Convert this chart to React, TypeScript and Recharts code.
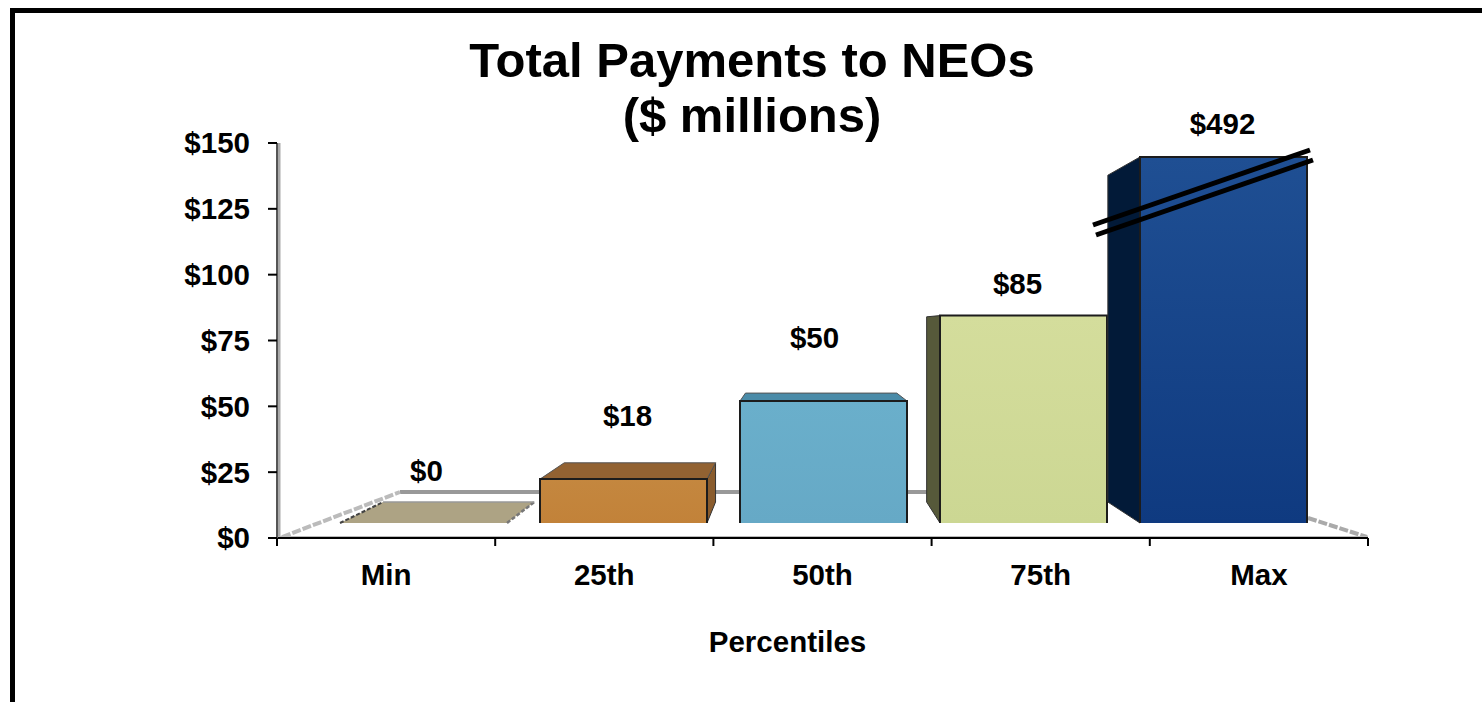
import React from 'react';
import { ComposedChart, Bar, Line, XAxis, YAxis, LabelList } from 'recharts';

// Chart content
const titleLines = ['Total Payments to NEOs', '($ millions)'];
const xAxisTitle = 'Percentiles';
const categories = ['Min', '25th', '50th', '75th', 'Max'];
const payments = [0, 18, 50, 85, 492];
const yTicks = [0, 25, 50, 75, 100, 125, 150];
const axisMax = 150;

// Per-bar appearance: front gradient, receding side face, top face
const frontTop = ['#ada384', '#c4873f', '#6aafcb', '#d4dd9c', '#1f4f93'];
const frontBottom = ['#ada384', '#c28239', '#66a9c6', '#ccd793', '#0f3a80'];
const sideFaces = ['#8a8369', '#8a5c2d', '#3f7f99', '#56593a', '#021a38'];
const topFaces = ['#ada384', '#926232', '#4a8ba8', '#7f8460', '#1a3a6a'];

// Label placement relative to the front face of each bar
const labelLift = [53, 64, 64, 32, 34];
const labelShift = [3, 4, -9, -6, -1];

const rows = categories.map((category, i) => ({
  category,
  payment: payments[i],
  plotted: Math.min(payments[i], axisMax),
}));

// One-point perspective used for the bar depth and the chart floor
const VANISH_X = 798;
const VANISH_Y = 327;
const DEPTH_X = 0.906;
const DEPTH_Y = 0.893;
const backX = (x: number) => VANISH_X + (x - VANISH_X) * DEPTH_X;
const backY = (y: number) => VANISH_Y + (y - VANISH_Y) * DEPTH_Y;
const pts = (list: number[][]) => list.map((p) => p.join(',')).join(' ');

const FONT = '"Liberation Sans", Arial, sans-serif';
const EDGE = '#1c1c1c';
const LABEL_SIZE = 29.5;

function Bar3D(props: any) {
  const { x, y, width, height, index, payload } = props;
  const left = x;
  const right = x + width;
  const top = y;
  const bottom = y + height;
  const flat = height < 1;
  const broken = payload.payment > payload.plotted;
  return (
    <g>
      {left > VANISH_X && (
        <polygon
          points={pts([[left, top], [backX(left), backY(top)], [backX(left), backY(bottom)], [left, bottom]])}
          fill={sideFaces[index]}
          stroke="#333"
          strokeWidth={1}
        />
      )}
      {right < VANISH_X && !flat && (
        <polygon
          points={pts([[right, top], [backX(right), backY(top)], [backX(right), backY(bottom)], [right, bottom]])}
          fill={sideFaces[index]}
          stroke="#333"
          strokeWidth={1}
        />
      )}
      {top > VANISH_Y && (
        <polygon
          points={pts([[left, top], [backX(left), backY(top)], [backX(right), backY(top)], [right, top]])}
          fill={topFaces[index]}
          stroke={flat ? 'none' : '#555'}
          strokeWidth={1}
        />
      )}
      {flat ? (
        <>
          <line x1={left} y1={bottom} x2={backX(left)} y2={backY(bottom)} stroke="#444" strokeWidth={2} strokeDasharray="4 2" />
          <line x1={right} y1={bottom} x2={backX(right)} y2={backY(bottom)} stroke="#777" strokeWidth={2.5} strokeDasharray="4 2" />
          <line x1={backX(left)} y1={backY(bottom)} x2={backX(right)} y2={backY(bottom)} stroke="#999" strokeWidth={1.5} />
        </>
      ) : (
        <>
          <rect x={left} y={top} width={width} height={height} fill={`url(#front-${index})`} />
          <path d={`M${left},${bottom} V${top} H${right} V${bottom}`} fill="none" stroke={EDGE} strokeWidth={2} />
        </>
      )}
      {broken &&
        [0, 1].map((n) => (
          <line
            key={n}
            x1={left - 47 + n * 3}
            y1={top + 68 + n * 10}
            x2={right + 3 + n * 3}
            y2={top - 7 + n * 10}
            stroke="#000"
            strokeWidth={5}
          />
        ))}
    </g>
  );
}

function ValueLabel(props: any) {
  const { x, y, width, index, value } = props;
  return (
    <text
      x={x + width / 2 + labelShift[index]}
      y={y - labelLift[index]}
      textAnchor="middle"
      dominantBaseline="central"
      fontFamily={FONT}
      fontWeight={700}
      fontSize={LABEL_SIZE}
      fill="#000"
    >
      {`$${value}`}
    </text>
  );
}

// Category label with tick marks on the band edges instead of the band centre
function CategoryTick(props: any) {
  const { x, y, width, index, payload } = props;
  const band = width / categories.length;
  const lineTop = y - 22;
  const edges = index === categories.length - 1 ? [x - band / 2, x + band / 2] : [x - band / 2];
  return (
    <g>
      {edges.map((edge) => (
        <line key={edge} x1={edge} y1={lineTop} x2={edge} y2={lineTop + 8} stroke="#000" strokeWidth={2} />
      ))}
      <text
        x={x}
        y={y + 14}
        textAnchor="middle"
        dominantBaseline="central"
        fontFamily={FONT}
        fontWeight={700}
        fontSize={LABEL_SIZE}
        fill="#000"
      >
        {payload.value}
      </text>
    </g>
  );
}

export default function App() {
  return (
    <div style={{ position: 'absolute', left: 0, top: 0, width: 1482, height: 702, overflow: 'hidden', background: '#fff' }}>
      <div style={{ position: 'absolute', left: 10, top: 8, width: 1600, height: 800, border: '5px solid #000', boxSizing: 'border-box' }} />
      <div style={{ position: 'absolute', left: 0, top: 0 }}>
        <ComposedChart
          width={1482}
          height={702}
          data={rows}
          margin={{ left: 187, right: 114, top: 143, bottom: 104 }}
          barCategoryGap={0}
        >
          <defs>
            {categories.map((c, i) => (
              <linearGradient key={c} id={`front-${i}`} x1="0" y1="0" x2="0" y2="1">
                <stop offset="0" stopColor={frontTop[i]} />
                <stop offset="1" stopColor={frontBottom[i]} />
              </linearGradient>
            ))}
          </defs>

          <text textAnchor="middle" fontFamily={FONT} fontWeight={700} fontSize={49} fill="#000">
            <tspan x={752} y={77}>{titleLines[0]}</tspan>
            <tspan x={752} y={132}>{titleLines[1]}</tspan>
          </text>

          {/* chart floor, seen in perspective behind the bars */}
          <line x1={400} y1={492} x2={1300} y2={492} stroke="#999" strokeWidth={4} />
          <line x1={282} y1={537} x2={400} y2={492} stroke="#bbb" strokeWidth={4} strokeDasharray="9 2" />
          <line x1={1308} y1={518} x2={1367} y2={537} stroke="#aaa" strokeWidth={4} strokeDasharray="9 2" />
          <line x1={279} y1={143} x2={279} y2={537} stroke="#aaa" strokeWidth={3} />
          <line x1={277} y1={537} x2={1368} y2={537} stroke="#bbb" strokeWidth={2} />

          <XAxis
            dataKey="category"
            height={60}
            axisLine={{ stroke: '#000', strokeWidth: 2 }}
            tickLine={false}
            tickSize={8}
            tickMargin={14}
            interval={0}
            tick={<CategoryTick />}
            label={{
              value: xAxisTitle,
              position: 'insideBottom',
              dx: -35,
              dy: 59,
              fontFamily: FONT,
              fontWeight: 700,
              fontSize: LABEL_SIZE,
              fill: '#000',
            }}
          />
          <XAxis xAxisId="bars" dataKey="category" hide padding={{ left: 46, right: 45 }} />
          <YAxis
            width={90}
            domain={[0, axisMax]}
            ticks={yTicks}
            interval={0}
            tickFormatter={(v: number) => `$${v}`}
            axisLine={{ stroke: '#555', strokeWidth: 2 }}
            tickLine={{ stroke: '#000', strokeWidth: 2 }}
            tickSize={9}
            tickMargin={18}
            tick={{ fontFamily: FONT, fontWeight: 700, fontSize: LABEL_SIZE, fill: '#000' }}
          />
          <YAxis yAxisId="bars" hide domain={[0, axisMax]} padding={{ top: 14, bottom: 15 }} />

          {/* unstroked series that keeps the visible axes tied to the data */}
          <Line dataKey="plotted" stroke="none" dot={false} activeDot={false} legendType="none" isAnimationActive={false} />

          <Bar
            dataKey="plotted"
            xAxisId="bars"
            yAxisId="bars"
            barSize={167}
            shape={Bar3D}
            isAnimationActive={false}
          >
            <LabelList dataKey="payment" content={ValueLabel} />
          </Bar>
        </ComposedChart>
      </div>
    </div>
  );
}
